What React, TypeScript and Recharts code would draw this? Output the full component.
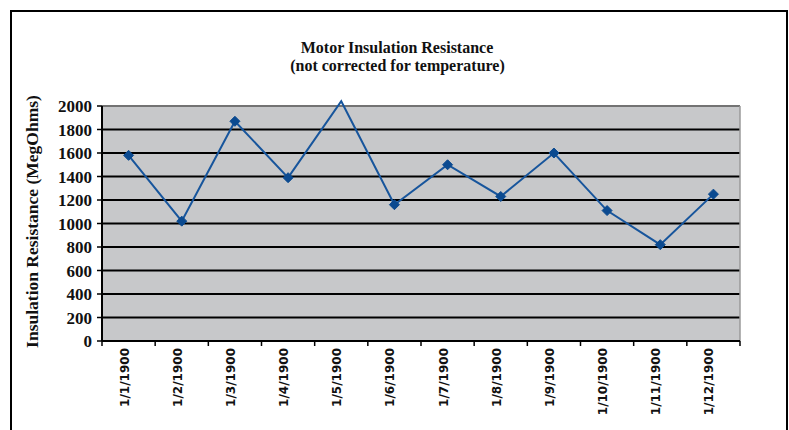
import React from "react";
import { LineChart, Line, XAxis, YAxis, CartesianGrid } from "recharts";

// months of the (mis-formatted) Excel date axis
const dates = [
  "1/1/1900", "1/2/1900", "1/3/1900", "1/4/1900", "1/5/1900", "1/6/1900",
  "1/7/1900", "1/8/1900", "1/9/1900", "1/10/1900", "1/11/1900", "1/12/1900",
];
// insulation resistance readings, MegOhms
const resistance = [1580, 1020, 1870, 1390, 2040, 1160, 1500, 1230, 1600, 1110, 820, 1250];
const yTicks = [0, 200, 400, 600, 800, 1000, 1200, 1400, 1600, 1800, 2000];
const yMax = 2000;

const data = dates.map((date, i) => ({ date, value: resistance[i] }));

const serif = "'Liberation Serif', 'Times New Roman', serif";
const sans = "'DejaVu Sans', Verdana, sans-serif";

function DateTick(props: any) {
  const { x, y, payload, index } = props;
  const half = payload.offset ?? 26.5;
  const top = y - 7;
  const last = index === dates.length - 1;
  return (
    <g>
      <line x1={x - half} x2={x - half} y1={top} y2={top + 5} stroke="#000" strokeWidth={1.5} />
      {last && <line x1={x + half} x2={x + half} y1={top} y2={top + 5} stroke="#000" strokeWidth={1.5} />}
      <text
        x={x}
        y={y}
        transform={`rotate(-90 ${x} ${y})`}
        textAnchor="end"
        fontFamily={sans}
        fontWeight="bold"
        fontSize={12}
        fill="#111"
      >
        {payload.value}
      </text>
    </g>
  );
}

function Diamond(props: any) {
  const { cx, cy, value, index } = props;
  if (cx == null || cy == null || value > yMax) return <g key={`d${index}`} />;
  const r = 5;
  return (
    <polygon
      key={`d${index}`}
      points={`${cx},${cy - r} ${cx + r},${cy} ${cx},${cy + r} ${cx - r},${cy}`}
      fill="#0b4a90"
      stroke="#0b4a90"
      strokeWidth={1}
    />
  );
}

export default function App() {
  return (
    <div
      style={{
        position: "fixed", left: 0, top: 0, width: 789, height: 430,
        overflow: "hidden", background: "#fff",
      }}
    >
      <style>{".recharts-line, .recharts-line * { clip-path: none !important; }"}</style>
      <div
        style={{
          position: "absolute", left: 10, top: 10, width: 778, height: 520,
          border: "2px solid #000", boxSizing: "border-box",
        }}
      />
      <div style={{ position: "absolute", left: 0, top: 0 }}>
        <LineChart width={789} height={430} data={data} margin={{ top: 106, right: 49, left: 0, bottom: 0 }}>
          <CartesianGrid vertical={false} stroke="#000" strokeWidth={2} fill="#c7c8ca" />
          <CartesianGrid
            stroke="#9a9a9a"
            strokeWidth={1.5}
            horizontalCoordinatesGenerator={({ offset }: any) => [offset.top]}
            verticalCoordinatesGenerator={({ offset }: any) => [offset.left + offset.width]}
          />
          <XAxis
            dataKey="date"
            scale="band"
            height={89}
            interval={0}
            tickLine={false}
            tickSize={5}
            tickMargin={2}
            axisLine={{ stroke: "#000", strokeWidth: 2 }}
            tick={<DateTick />}
          />
          <YAxis
            width={102}
            domain={[0, yMax]}
            ticks={yTicks}
            allowDataOverflow
            interval={0}
            tickSize={5}
            tickMargin={5}
            tickLine={{ stroke: "#000", strokeWidth: 1.5 }}
            axisLine={{ stroke: "#000", strokeWidth: 2 }}
            tick={{ fontFamily: serif, fontWeight: "bold", fontSize: 17, fill: "#111" }}
          />
          <Line
            type="linear"
            dataKey="value"
            stroke="#17559c"
            strokeWidth={2}
            dot={<Diamond />}
            activeDot={false}
            isAnimationActive={false}
          />
        </LineChart>
      </div>
      <svg
        width={789}
        height={430}
        style={{ position: "absolute", left: 0, top: 0, pointerEvents: "none" }}
      >
        <g fontFamily={serif} fontWeight="bold" fill="#111" textAnchor="middle">
          <text x={397} y={53} fontSize={16}>Motor Insulation Resistance</text>
          <text x={397.5} y={70.5} fontSize={16}>(not corrected for temperature)</text>
          <text x={38} y={221.5} fontSize={17.5} transform="rotate(-90 38 221.5)">
            Insulation Resistance (MegOhms)
          </text>
        </g>
      </svg>
    </div>
  );
}
